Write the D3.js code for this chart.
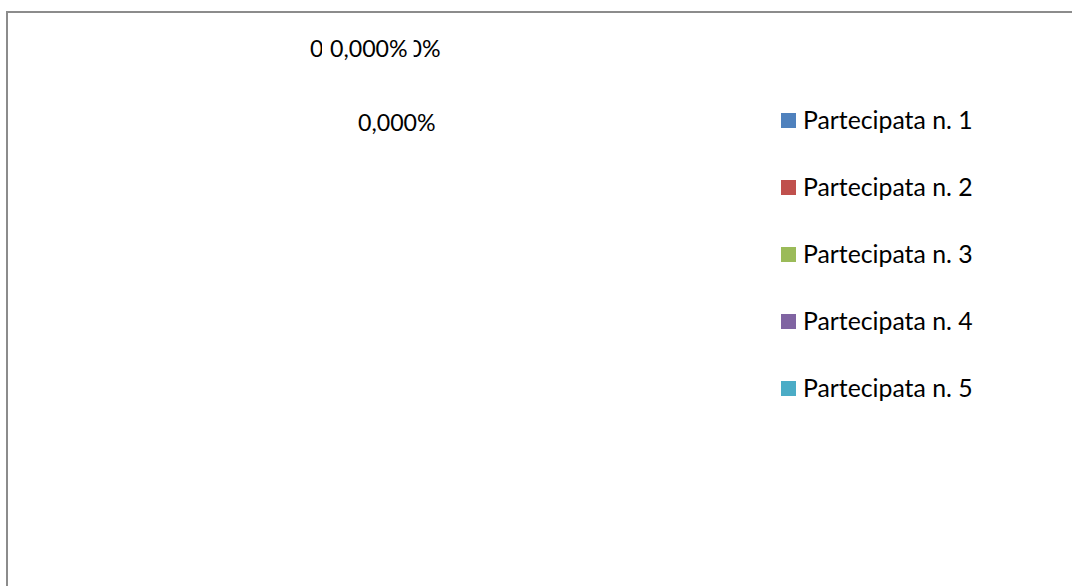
<!DOCTYPE html>
<html>
<head>
<meta charset="utf-8">
<script src="https://cdn.jsdelivr.net/npm/d3@7"></script>
<style>
  html, body { margin: 0; padding: 0; background: #fff; overflow: hidden; }
  text { font-family: Lato, "Open Sans", sans-serif; }
</style>
</head>
<body>
<div id="chart"></div>
<script>
// Data: every share is zero, so all slices collapse and labels pile up
const categories = ["Partecipata n. 1", "Partecipata n. 2", "Partecipata n. 3", "Partecipata n. 4", "Partecipata n. 5"];
const values = [0, 0, 0, 0, 0];
const colors = ["#4f81bd", "#c0504d", "#9bbb59", "#8064a2", "#4bacc6"];

const width = 1072, height = 586;

const svg = d3.select("#chart")
    .append("svg")
    .attr("width", width)
    .attr("height", height);

// Chart frame (runs off the right and bottom of the picture)
svg.append("rect")
    .attr("x", 7)
    .attr("y", 12)
    .attr("width", 1080)
    .attr("height", 600)
    .attr("fill", "#fff")
    .attr("stroke", "#8c8c8c")
    .attr("stroke-width", 2);

// Pie
const cx = 398, cy = 300, radius = 200;
const pie = d3.pie().sort(null).value(d => d);
const arcs = pie(values);
const arc = d3.arc().innerRadius(0).outerRadius(radius);
const total = d3.sum(values);
const fmt = v => (total ? v / total * 100 : 0).toFixed(3).replace(".", ",") + "%";

const g = svg.append("g").attr("transform", `translate(${cx},${cy})`);
g.selectAll("path")
    .data(arcs)
    .enter()
    .append("path")
    .attr("d", arc)
    .attr("fill", (d, i) => colors[i]);

// Excel stacks the zero-size labels near the top; offsets from the pie centre
const labelOffsets = [[-68, -243], [-88, -243], [-40, -169], [-35, -243], [-35, -243]];
const labelOrder = [3, 4, 1, 2, 0];  // drawing order, last on top

const labels = svg.append("g");
labelOrder.forEach(i => {
    const d = arcs[i];
    const x = cx + labelOffsets[i][0];
    const y = cy + labelOffsets[i][1];
    const lg = labels.append("g").attr("transform", `translate(${x},${y})`);
    const t = lg.append("text")
        .attr("font-size", 23.2)
        .attr("fill", "#000")
        .text(fmt(d.data));
    const bb = t.node().getBBox();
    lg.insert("rect", "text")
        .attr("x", bb.x - 8)
        .attr("y", bb.y)
        .attr("width", bb.width + 14)
        .attr("height", bb.height)
        .attr("fill", "#fff");
});

// Legend
const legend = svg.append("g").attr("transform", "translate(781,113)");
const item = legend.selectAll("g")
    .data(categories)
    .enter()
    .append("g")
    .attr("transform", (d, i) => `translate(0,${i * 67})`);

item.append("rect")
    .attr("width", 15)
    .attr("height", 15)
    .attr("fill", (d, i) => colors[i]);

item.append("text")
    .attr("x", 22)
    .attr("y", 7.5)
    .attr("dy", "0.36em")
    .attr("font-size", 24.8)
    .attr("fill", "#000")
    .text(d => d);
</script>
</body>
</html>
